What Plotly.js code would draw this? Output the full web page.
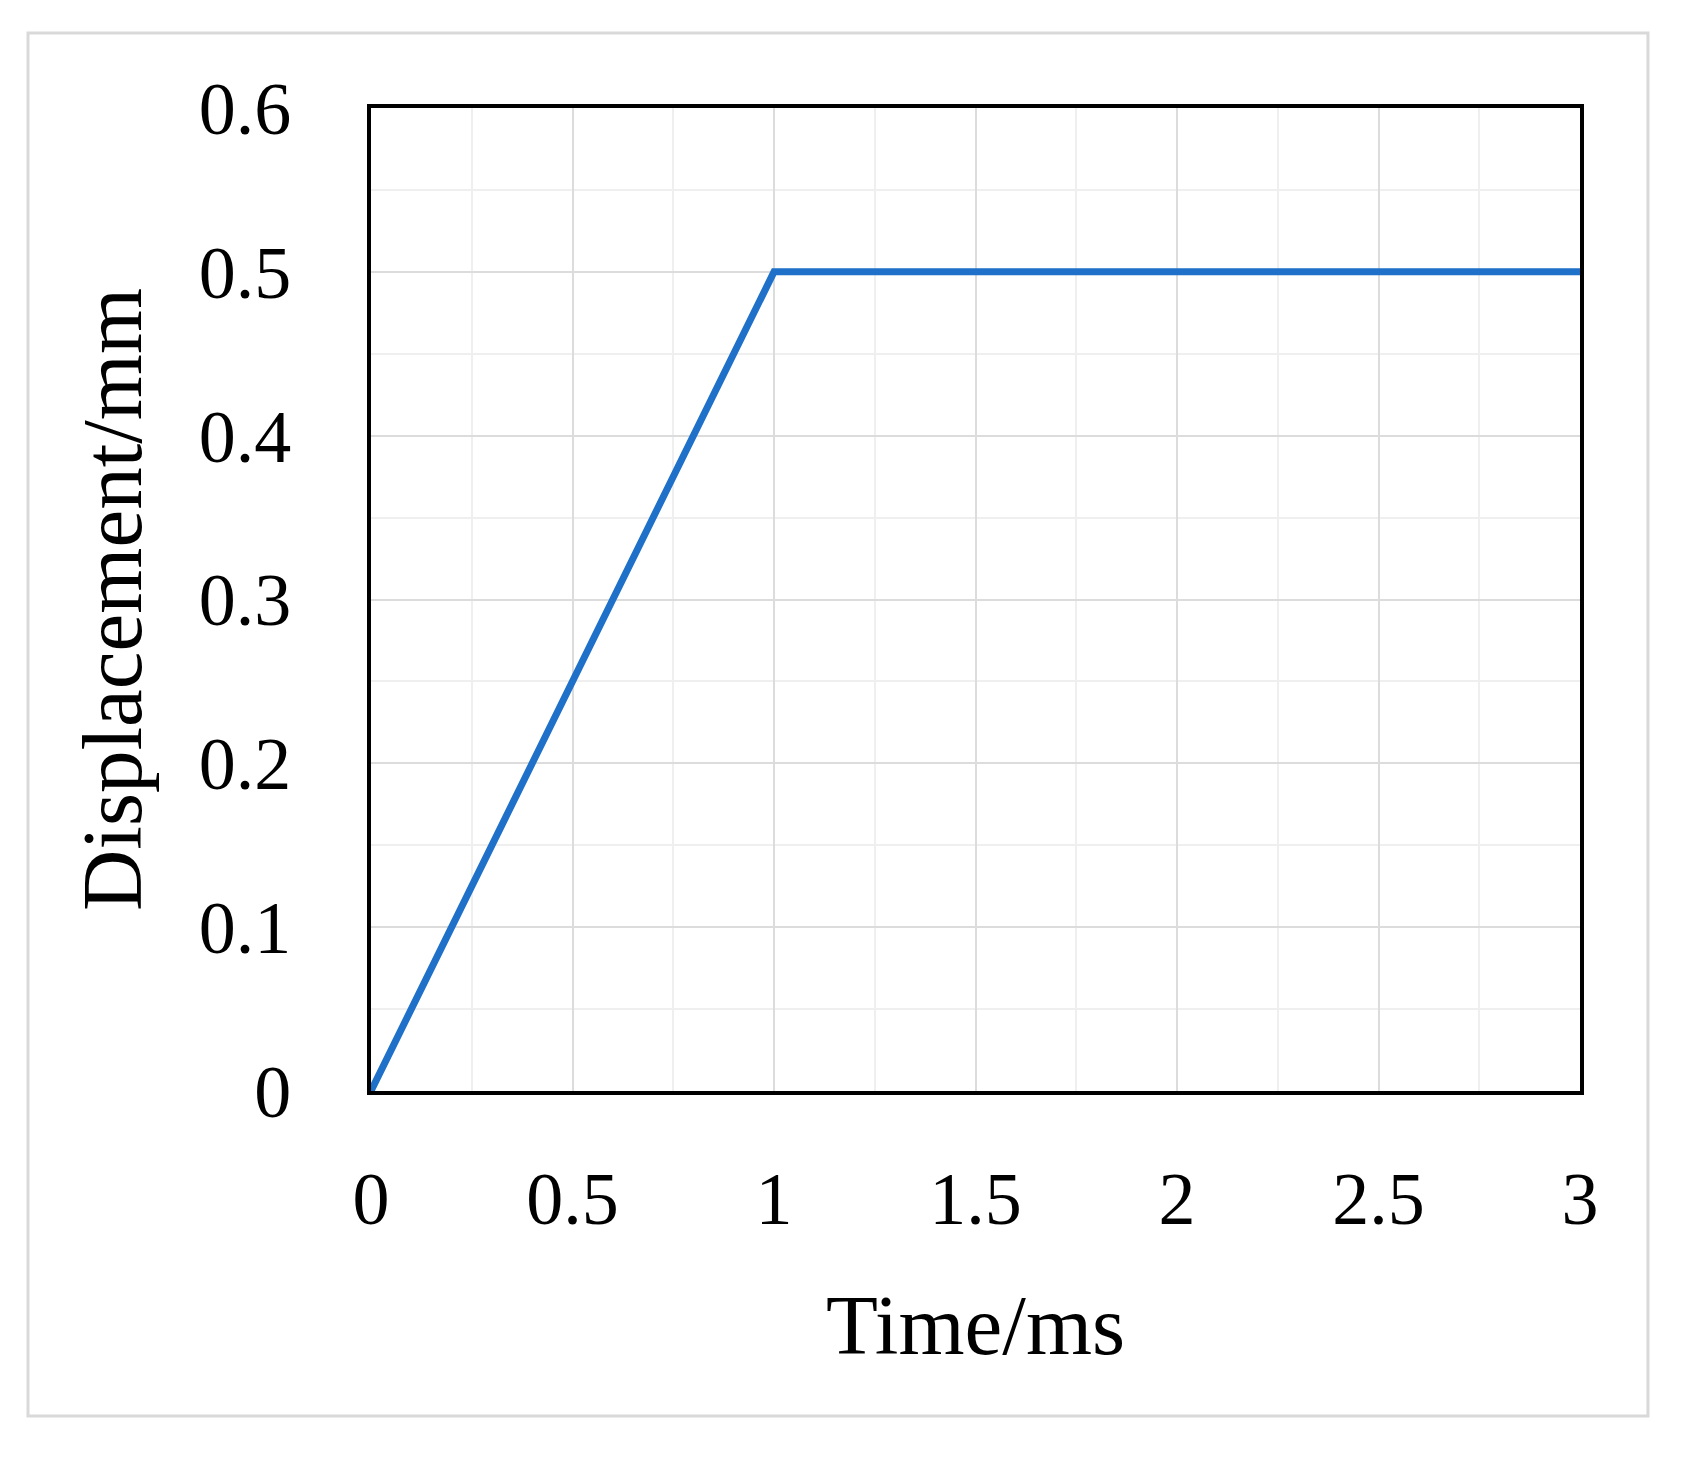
<!DOCTYPE html>
<html>
<head>
<meta charset="utf-8">
<script src="https://cdn.plot.ly/plotly-3.0.1.min.js"></script>
<style>
html,body{margin:0;padding:0;background:#fff;}
#chart{width:1691px;height:1477px;}
</style>
</head>
<body>
<div id="chart"></div>
<script>
const timeMs = [0, 1, 3];
const displacementMm = [0, 0.5, 0.5];
const xTickVals = [0, 0.5, 1, 1.5, 2, 2.5, 3];
const xTickText = ['0', '0.5', '1', '1.5', '2', '2.5', '3'];
const yTickVals = [0, 0.1, 0.2, 0.3, 0.4, 0.5, 0.6];
const yTickText = ['0', '0.1', '0.2', '0.3', '0.4', '0.5', '0.6'];

const fontFam = '"Liberation Serif", "Times New Roman", serif';

const trace = {
  x: timeMs,
  y: displacementMm,
  type: 'scatter',
  mode: 'lines',
  line: {color: '#1f70c8', width: 7},
  hoverinfo: 'skip',
  cliponaxis: false
};

const layout = {
  width: 1691,
  height: 1477,
  margin: {l: 371, r: 111, t: 108, b: 386},
  paper_bgcolor: '#ffffff',
  plot_bgcolor: '#ffffff',
  showlegend: false,
  font: {family: fontFam, color: '#000000'},
  xaxis: {
    range: [0, 3],
    tickmode: 'array',
    tickvals: xTickVals,
    ticktext: xTickText,
    ticks: '',
    ticklabelstandoff: 40,
    tickfont: {family: fontFam, size: 74, color: '#000'},
    showgrid: true,
    gridcolor: '#dcdcdc',
    gridwidth: 2,
    minor: {dtick: 0.25, showgrid: true, gridcolor: '#efefef', gridwidth: 2, ticks: ''},
    showline: true,
    linecolor: '#000',
    linewidth: 4,
    mirror: true,
    zeroline: false,
    fixedrange: true,
    title: {text: 'Time/ms', font: {family: fontFam, size: 85, color: '#000'}, standoff: 57}
  },
  yaxis: {
    range: [0, 0.6],
    tickmode: 'array',
    tickvals: yTickVals,
    ticktext: yTickText,
    ticks: '',
    ticklabelstandoff: 61,
    tickfont: {family: fontFam, size: 74, color: '#000'},
    showgrid: true,
    gridcolor: '#dcdcdc',
    gridwidth: 2,
    minor: {dtick: 0.05, showgrid: true, gridcolor: '#efefef', gridwidth: 2, ticks: ''},
    showline: true,
    linecolor: '#000',
    linewidth: 4,
    mirror: true,
    zeroline: false,
    fixedrange: true,
    title: {text: 'Displacement/mm', font: {family: fontFam, size: 85, color: '#000'}, standoff: 30}
  },
  shapes: [{
    type: 'rect',
    xref: 'paper', yref: 'paper',
    x0: -0.2837, x1: 1.0562, y0: -0.3306, y1: 1.0763,
    line: {color: '#d9d9d9', width: 3},
    fillcolor: 'rgba(0,0,0,0)',
    layer: 'below'
  }]
};

Plotly.newPlot('chart', [trace], layout, {displayModeBar: false, staticPlot: true});
</script>
</body>
</html>
